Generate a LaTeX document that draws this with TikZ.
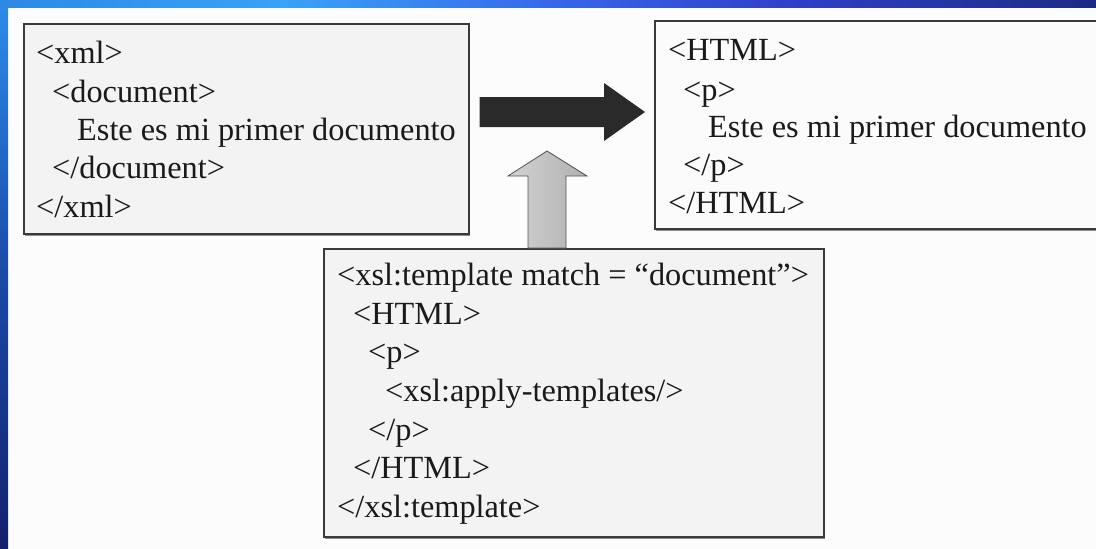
\documentclass[tikz,border=0pt]{standalone}
\usepackage{fontspec}
\setmainfont{Liberation Serif}
\usetikzlibrary{calc,shadows}

% slide frame colours
\definecolor{pagebg}{HTML}{FCFCFC}
\definecolor{bandA}{HTML}{2E88E6}
\definecolor{bandB}{HTML}{3AA2F8}
\definecolor{bandC}{HTML}{3868E8}
\definecolor{bandD}{HTML}{3040C8}
\definecolor{bandE}{HTML}{1C2A84}
\definecolor{sideA}{HTML}{2E8CE8}
\definecolor{sideB}{HTML}{1A4AA8}
\definecolor{sideC}{HTML}{14206A}
% panel colours
\definecolor{panelgrey}{HTML}{F3F3F3}
\definecolor{panelwhite}{HTML}{FBFBFB}
\definecolor{frame}{HTML}{3A3A3A}
\definecolor{arrowdark}{HTML}{2A2A2A}
\definecolor{codeink}{HTML}{1A1A1A}

\pgfdeclarehorizontalshading{topband}{100bp}{%
  color(0bp)=(bandA); color(25bp)=(bandA); color(38bp)=(bandB);
  color(50bp)=(bandC); color(61bp)=(bandD); color(75bp)=(bandE); color(100bp)=(bandE)}
\pgfdeclareverticalshading{sideband}{100bp}{%
  color(0bp)=(sideC); color(25bp)=(sideC); color(50bp)=(sideB);
  color(75bp)=(sideA); color(100bp)=(sideA)}

\newcommand\codefont{\fontsize{32.3pt}{38.7pt}\selectfont}

\tikzset{
  panel/.style={draw=frame, line width=1.6pt, inner sep=0pt, anchor=north west,
    drop shadow={shadow xshift=1.2pt, shadow yshift=-1.8pt, fill=black!45, opacity=1}},
  codeline/.style={anchor=base west, inner sep=0pt, font=\codefont, text=codeink},
}

\begin{document}
\begin{tikzpicture}[x=1pt,y=-1pt]
\useasboundingbox (0,0) rectangle (1096,549);

% background and blue slide frame
\fill[pagebg] (0,0) rectangle (1096,549);
\shade[shading=sideband] (0,0) rectangle (8,549);
\shade[shading=topband] (0,0) rectangle (1096,7);

% source document
\node[panel, fill=panelgrey, minimum width=445, minimum height=210] (xmlbox) at (23,23) {};
\node[codeline] (x1) at (36,63)  {<xml>};
\node[codeline] (x2) at (52,102) {<document>};
\node[codeline] (x3) at (77,140) {Este es mi primer documento};
\node[codeline] (x4) at (52,178) {</document>};
\node[codeline] (x5) at (36,217) {</xml>};

% result document
\node[panel, fill=panelwhite, minimum width=460, minimum height=208] (htmlbox) at (654,20) {};
\node[codeline] (h1) at (668,60)  {<HTML>};
\node[codeline] (h2) at (683,100) {<p>};
\node[codeline] (h3) at (708,137) {Este es mi primer documento};
\node[codeline] (h4) at (683,175) {</p>};
\node[codeline] (h5) at (668,213) {</HTML>};

% stylesheet template
\node[panel, fill=panelgrey, minimum width=500, minimum height=288] (xslbox) at (323,248) {};
\node[codeline] (s1) at (337,285) {<xsl:template match = “document”>};
\node[codeline] (s2) at (353,324) {<HTML>};
\node[codeline] (s3) at (368,362) {<p>};
\node[codeline] (s4) at (385,401) {<xsl:apply-templates/>};
\node[codeline] (s5) at (368,440) {</p>};
\node[codeline] (s6) at (353,478) {</HTML>};
\node[codeline] (s7) at (337,517) {</xsl:template>};

% transformation arrow: xml -> html
\coordinate (flowstart) at ($(xmlbox.north east)+(10,89)$);
\coordinate (flowtip)   at ($(htmlbox.north west)+(-9,92)$);
\fill[arrowdark]
  ($(flowstart)+(0,-15)$) -- ($(flowtip)+(-41,-15)$) -- ($(flowtip)+(-41,-29)$)
  -- (flowtip) -- ($(flowtip)+(-41,29)$) -- ($(flowtip)+(-41,15)$)
  -- ($(flowstart)+(0,15)$) -- cycle;

% template arrow: xsl -> transformation
\coordinate (upbase) at (xslbox.north -| 547,0);
\coordinate (uptip)  at (547,151);
\shade[left color=gray!35, right color=gray!62, draw=gray!65!black, line width=0.8pt]
  ($(upbase)+(-19,0)$) -- ($(uptip)+(-19,25)$) -- ($(uptip)+(-39,25)$)
  -- (uptip) -- ($(uptip)+(40,25)$) -- ($(uptip)+(19,25)$)
  -- ($(upbase)+(19,0)$) -- cycle;
\end{tikzpicture}
\end{document}
